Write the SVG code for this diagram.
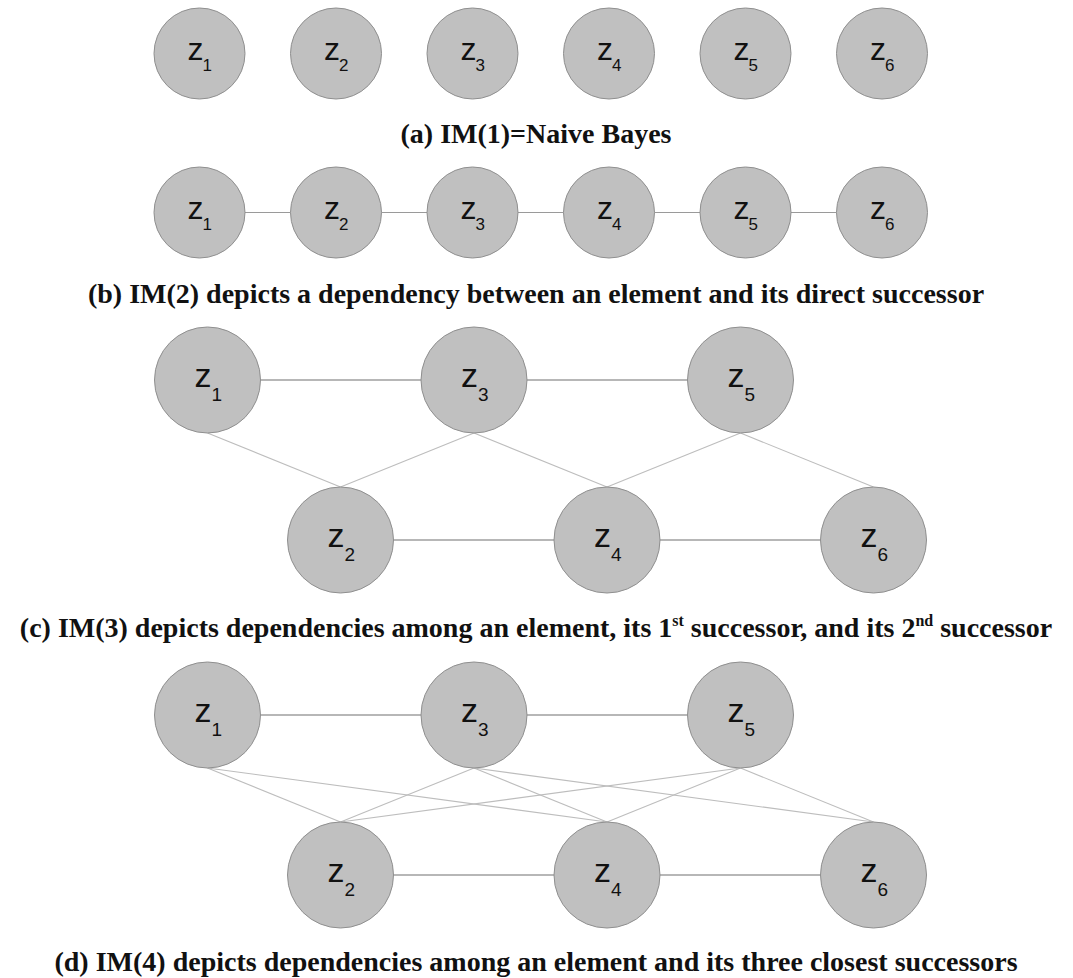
<svg xmlns="http://www.w3.org/2000/svg" width="1073" height="978" viewBox="0 0 1073 978">
<style>
.n{fill:#c0c0c0;stroke:#8f8f8f;stroke-width:1}
.z{font-family:"Liberation Sans",Arial,sans-serif;fill:#111}
.zs{font-size:32px}
.ss{font-size:17px}
.zl{font-size:34px}
.sl{font-size:19px}
.h{stroke:#707070;stroke-width:1.2;fill:none}
.hb{stroke:#9a9a9a;stroke-width:1.2;fill:none}
.d{stroke:#bdbdbd;stroke-width:1.1;fill:none}
.cap{font-family:"Liberation Serif","Times New Roman",serif;font-weight:bold;font-size:28px;fill:#111;text-anchor:middle}
.sup{font-size:16px}
</style>
<rect width="1073" height="978" fill="#fff"/>
<g id="connectors">
<line class="hb" x1="245" y1="212.5" x2="290.5" y2="212.5"/>
<line class="hb" x1="381.5" y1="212.5" x2="427" y2="212.5"/>
<line class="hb" x1="518" y1="212.5" x2="563.5" y2="212.5"/>
<line class="hb" x1="654.5" y1="212.5" x2="700" y2="212.5"/>
<line class="hb" x1="791" y1="212.5" x2="836.5" y2="212.5"/>
<line class="h" x1="260.5" y1="380" x2="421" y2="380"/>
<line class="h" x1="527" y1="380" x2="687.5" y2="380"/>
<line class="h" x1="393.5" y1="540" x2="554" y2="540"/>
<line class="h" x1="660" y1="540" x2="820.5" y2="540"/>
<line class="d" x1="207.5" y1="433" x2="340.5" y2="487"/>
<line class="d" x1="474" y1="433" x2="340.5" y2="487"/>
<line class="d" x1="474" y1="433" x2="607" y2="487"/>
<line class="d" x1="740.5" y1="433" x2="607" y2="487"/>
<line class="d" x1="740.5" y1="433" x2="873.5" y2="487"/>
<line class="h" x1="260.5" y1="715" x2="421" y2="715"/>
<line class="h" x1="527" y1="715" x2="687.5" y2="715"/>
<line class="h" x1="393.5" y1="875" x2="554" y2="875"/>
<line class="h" x1="660" y1="875" x2="820.5" y2="875"/>
<line class="d" x1="207.5" y1="768" x2="340.5" y2="822"/>
<line class="d" x1="207.5" y1="768" x2="607" y2="822"/>
<line class="d" x1="474" y1="768" x2="340.5" y2="822"/>
<line class="d" x1="474" y1="768" x2="607" y2="822"/>
<line class="d" x1="474" y1="768" x2="873.5" y2="822"/>
<line class="d" x1="740.5" y1="768" x2="340.5" y2="822"/>
<line class="d" x1="740.5" y1="768" x2="607" y2="822"/>
<line class="d" x1="740.5" y1="768" x2="873.5" y2="822"/>
</g>
<g id="a-z1"><circle class="n" cx="199.5" cy="53.5" r="45.5"/><text class="z zs" x="187.5" y="60">z</text><text class="z ss" x="202.5" y="71">1</text></g>
<g id="a-z2"><circle class="n" cx="336" cy="53.5" r="45.5"/><text class="z zs" x="324" y="60">z</text><text class="z ss" x="339" y="71">2</text></g>
<g id="a-z3"><circle class="n" cx="472.5" cy="53.5" r="45.5"/><text class="z zs" x="460.5" y="60">z</text><text class="z ss" x="475.5" y="71">3</text></g>
<g id="a-z4"><circle class="n" cx="609" cy="53.5" r="45.5"/><text class="z zs" x="597" y="60">z</text><text class="z ss" x="612" y="71">4</text></g>
<g id="a-z5"><circle class="n" cx="745.5" cy="53.5" r="45.5"/><text class="z zs" x="733.5" y="60">z</text><text class="z ss" x="748.5" y="71">5</text></g>
<g id="a-z6"><circle class="n" cx="882" cy="53.5" r="45.5"/><text class="z zs" x="870" y="60">z</text><text class="z ss" x="885" y="71">6</text></g>
<text id="cap-a" class="cap" x="536" y="143">(a) IM(1)=Naive Bayes</text>
<g id="b-z1"><circle class="n" cx="199.5" cy="212.5" r="45.5"/><text class="z zs" x="187.5" y="219">z</text><text class="z ss" x="202.5" y="230">1</text></g>
<g id="b-z2"><circle class="n" cx="336" cy="212.5" r="45.5"/><text class="z zs" x="324" y="219">z</text><text class="z ss" x="339" y="230">2</text></g>
<g id="b-z3"><circle class="n" cx="472.5" cy="212.5" r="45.5"/><text class="z zs" x="460.5" y="219">z</text><text class="z ss" x="475.5" y="230">3</text></g>
<g id="b-z4"><circle class="n" cx="609" cy="212.5" r="45.5"/><text class="z zs" x="597" y="219">z</text><text class="z ss" x="612" y="230">4</text></g>
<g id="b-z5"><circle class="n" cx="745.5" cy="212.5" r="45.5"/><text class="z zs" x="733.5" y="219">z</text><text class="z ss" x="748.5" y="230">5</text></g>
<g id="b-z6"><circle class="n" cx="882" cy="212.5" r="45.5"/><text class="z zs" x="870" y="219">z</text><text class="z ss" x="885" y="230">6</text></g>
<text id="cap-b" class="cap" x="536" y="303">(b) IM(2) depicts a dependency between an element and its direct successor</text>
<g id="c-z1"><circle class="n" cx="207.5" cy="380" r="53"/><text class="z zl" x="194.5" y="387">z</text><text class="z sl" x="211.5" y="401">1</text></g>
<g id="c-z3"><circle class="n" cx="474" cy="380" r="53"/><text class="z zl" x="461" y="387">z</text><text class="z sl" x="478" y="401">3</text></g>
<g id="c-z5"><circle class="n" cx="740.5" cy="380" r="53"/><text class="z zl" x="727.5" y="387">z</text><text class="z sl" x="744.5" y="401">5</text></g>
<g id="c-z2"><circle class="n" cx="340.5" cy="540" r="53"/><text class="z zl" x="327.5" y="547">z</text><text class="z sl" x="344.5" y="561">2</text></g>
<g id="c-z4"><circle class="n" cx="607" cy="540" r="53"/><text class="z zl" x="594" y="547">z</text><text class="z sl" x="611" y="561">4</text></g>
<g id="c-z6"><circle class="n" cx="873.5" cy="540" r="53"/><text class="z zl" x="860.5" y="547">z</text><text class="z sl" x="877.5" y="561">6</text></g>
<text id="cap-c" class="cap" x="536" y="637">(c) IM(3) depicts dependencies among an element, its 1<tspan class="sup" dy="-11">st</tspan><tspan dy="11"> successor, and its 2</tspan><tspan class="sup" dy="-11">nd</tspan><tspan dy="11"> successor</tspan></text>
<g id="d-z1"><circle class="n" cx="207.5" cy="715" r="53"/><text class="z zl" x="194.5" y="722">z</text><text class="z sl" x="211.5" y="736">1</text></g>
<g id="d-z3"><circle class="n" cx="474" cy="715" r="53"/><text class="z zl" x="461" y="722">z</text><text class="z sl" x="478" y="736">3</text></g>
<g id="d-z5"><circle class="n" cx="740.5" cy="715" r="53"/><text class="z zl" x="727.5" y="722">z</text><text class="z sl" x="744.5" y="736">5</text></g>
<g id="d-z2"><circle class="n" cx="340.5" cy="875" r="53"/><text class="z zl" x="327.5" y="882">z</text><text class="z sl" x="344.5" y="896">2</text></g>
<g id="d-z4"><circle class="n" cx="607" cy="875" r="53"/><text class="z zl" x="594" y="882">z</text><text class="z sl" x="611" y="896">4</text></g>
<g id="d-z6"><circle class="n" cx="873.5" cy="875" r="53"/><text class="z zl" x="860.5" y="882">z</text><text class="z sl" x="877.5" y="896">6</text></g>
<text id="cap-d" class="cap" x="536" y="971">(d) IM(4) depicts dependencies among an element and its three closest successors</text>
</svg>
